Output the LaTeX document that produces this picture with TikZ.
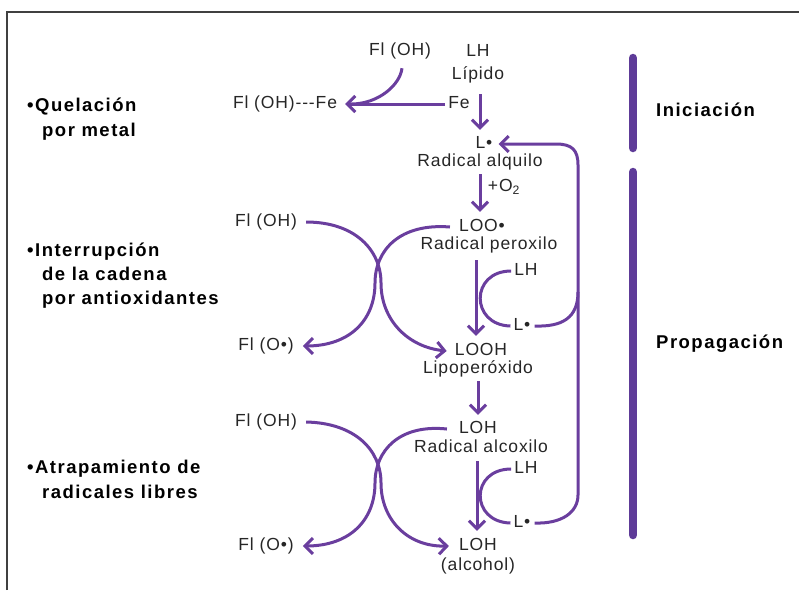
\documentclass[tikz,border=0pt]{standalone}
\usepackage{fontspec}
\setmainfont{Liberation Sans}
\newfontfamily\labfont[LetterSpace=5]{Liberation Sans}
\newfontfamily\boldfont[LetterSpace=8]{Liberation Sans Bold}
\usetikzlibrary{arrows.meta}
\definecolor{vio}{HTML}{6A3E9E}
\definecolor{bar}{HTML}{5E3B98}
\begin{document}
\begin{tikzpicture}[x=1pt,y=-1pt,
  lab/.style={font=\labfont\fontsize{17.5}{18}\selectfont, inner sep=0pt, text=black!85, text height=12.5pt, text depth=3.5pt},
  side/.style={font=\boldfont\fontsize{18.5}{20}\selectfont, inner sep=0pt, anchor=base west},
  phase/.style={font=\boldfont\fontsize{18.5}{20}\selectfont, inner sep=0pt, anchor=base west},
  conn/.style={draw=vio, line width=3pt, -{Straight Barb[length=8pt,width=16pt,line width=3pt]}},
  plainc/.style={draw=vio, line width=3pt},
  barline/.style={draw=bar, line width=8.5pt, line cap=round}]
\useasboundingbox (0,0) rectangle (799,590);
\draw[line width=1.4pt, black!75] (7,590) -- (7,12) -- (799,12);

% left labels
\node[side] (q1) at (27,111) {•Quelación};
\node[side] (q2) at (42,136) {por metal};
\node[side] (i1) at (27,256) {•Interrupción};
\node[side] (i2) at (42,280) {de la cadena};
\node[side] (i3) at (42,304) {por antioxidantes};
\node[side] (a1) at (27,473) {•Atrapamiento de};
\node[side] (a2) at (42,498) {radicales libres};

% phases
\draw[barline] (633,58) -- (633,148);
\draw[barline] (633,172) -- (633,535);
\node[phase] (ini) at (656,116) {Iniciación};
\node[phase] (pro) at (656,348) {Propagación};

% chemistry nodes
\node[lab] (flA) at (400,51) {Fl (OH)};
\node[lab] (lh0) at (478,52) {LH};
\node[lab] (lip) at (478,75) {Lípido};
\node[lab] (fe) at (459,104) {Fe};
\node[lab] (flfe) at (285,104) {Fl (OH)---Fe};
\node[lab] (L1) at (484,144) {L•};
\node[lab] (ralq) at (480,162) {Radical alquilo};
\node[lab] (o2) at (504,187) {+O\textsubscript{2}};
\node[lab] (loo) at (482,227) {LOO•};
\node[lab] (rper) at (489,245) {Radical peroxilo};
\node[lab] (lh1) at (526,271) {LH};
\node[lab] (l2) at (522,326) {L•};
\node[lab] (looh) at (481,351) {LOOH};
\node[lab] (lipo) at (478,369) {Lipoperóxido};
\node[lab] (loh) at (478,429) {LOH};
\node[lab] (ralc) at (481,448) {Radical alcoxilo};
\node[lab] (lh2) at (526,469) {LH};
\node[lab] (l3) at (522,523) {L•};
\node[lab] (loh2) at (478,546) {LOH};
\node[lab] (alc) at (478,566) {(alcohol)};
\node[lab] (fa1) at (266,222) {Fl (OH)};
\node[lab] (fb1) at (266,346) {Fl (O•)};
\node[lab] (fa2) at (266,422) {Fl (OH)};
\node[lab] (fb2) at (266,546) {Fl (O•)};

% initiation
\draw[conn] ([xshift=-3pt]fe.west) -- ([xshift=8pt]flfe.east);
\draw[plainc] ([xshift=2pt,yshift=-9pt]flA.south) .. controls ([xshift=0pt,yshift=-26pt]flA.south) and ([xshift=-22pt]flA.south |- fe) .. ([xshift=14pt]flfe.east |- fe);
\draw[conn] ([xshift=2pt,yshift=-11pt]lip.south) -- ([xshift=-4pt,yshift=6pt]L1.north);
\draw[conn] ([yshift=-4pt]ralq.south) -- ([xshift=-2pt,yshift=7pt]loo.north);
\draw[conn] ([xshift=-13pt,yshift=-7pt]rper.south) -- ([xshift=-5pt,yshift=7pt]looh.north);
\draw[conn] ([yshift=-4pt]lipo.south) -- ([yshift=6pt]loh.north);
\draw[conn] ([xshift=-4pt,yshift=-5pt]ralc.south) -- ([xshift=-1pt,yshift=7pt]loh2.north);

% LH -> L. arcs
\draw[plainc] ([xshift=-3pt]lh1.west) .. controls (470,271) and (470,325) .. ([xshift=-3pt]l2.west);
\draw[plainc] ([xshift=-3pt]lh2.west) .. controls (470,469) and (470,522) .. ([xshift=-3pt]l3.west);

% return line
\coordinate (rtop) at (578,165);
\coordinate (rbot) at (578,495);
\draw[conn] (rbot) -- (rtop) .. controls (578,150) and (572,144) .. (556,144) -- ([xshift=6pt]L1.east);
\draw[plainc] ([xshift=4pt]l2.east) .. controls (562,327) and (578,318) .. (578,292);
\draw[plainc] ([xshift=4pt]l3.east) .. controls (562,524) and (578,512) .. (rbot);

% crossing arcs, upper
\draw[conn] ([xshift=9pt]fa1.east) .. controls (355,222) and (381,250) .. (381,283) .. controls (381,320) and (408,347) .. ([xshift=-8pt]looh.west);
\draw[conn] ([xshift=-9pt]loo.west) .. controls (400,223) and (375,250) .. (375,283) .. controls (375,320) and (350,346) .. ([xshift=9pt]fb1.east);
% crossing arcs, lower
\draw[conn] ([xshift=9pt]fa2.east) .. controls (355,423) and (381,450) .. (381,483) .. controls (381,520) and (408,547) .. ([xshift=-10pt]loh2.west);
\draw[conn] ([xshift=-12pt]loh.west) .. controls (400,424) and (375,450) .. (375,483) .. controls (375,520) and (350,546) .. ([xshift=9pt]fb2.east);
\end{tikzpicture}
\end{document}
